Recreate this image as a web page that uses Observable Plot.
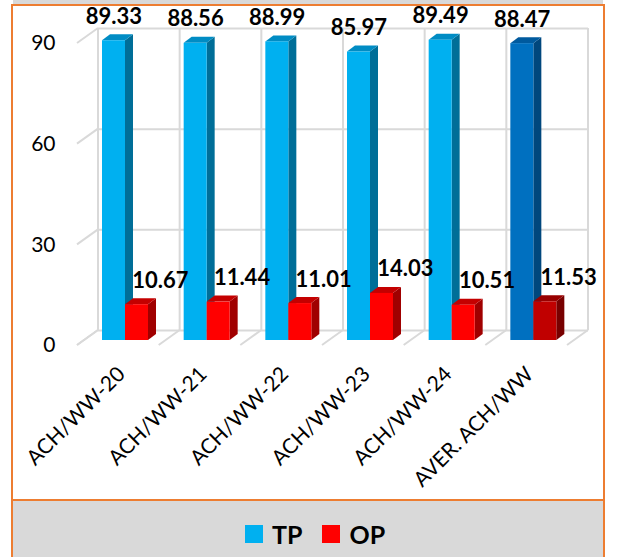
<!DOCTYPE html>
<html>
<head>
<meta charset="utf-8">
<script src="https://cdn.jsdelivr.net/npm/d3@7"></script>
<script src="https://cdn.jsdelivr.net/npm/@observablehq/plot@0.6"></script>
<style>
  html, body { margin: 0; padding: 0; background: #fff; }
  #page { position: relative; width: 617px; height: 557px; overflow: hidden; font-family: Lato, sans-serif; }
  #chart { position: absolute; left: 0; top: 0; }
  .top-band { position: absolute; left: 13px; top: 0; width: 590px; height: 4px; background: #D9D9D9; }
  .frame { position: absolute; left: 11px; top: 4px; width: 590px; height: 600px; border: 2px solid #ED7D31; pointer-events: none; }
  .legend-area { position: absolute; left: 13px; top: 499px; width: 590px; height: 80px; background: #D9D9D9; border-top: 2px solid #ED7D31; }
  .legend { position: absolute; left: 245px; top: 519px; display: flex; align-items: center; font-family: Lato, sans-serif; font-weight: bold; font-size: 25px; line-height: 30px; color: #000; }
  .legend .swatch { width: 18px; height: 18px; margin-right: 9px; }
  .legend .item { display: flex; align-items: center; margin-right: 20px; }
</style>
</head>
<body>
<div id="page">
  <div id="chart"></div>
  <div class="top-band"></div>
  <div class="frame"></div>
  <div class="legend-area"></div>
  <div class="legend" id="legend"></div>
</div>
<script>
// Data
const categories = ["ACH/WW-20", "ACH/WW-21", "ACH/WW-22", "ACH/WW-23", "ACH/WW-24", "AVER. ACH/WW"];
const tpValues = [89.33, 88.56, 88.99, 85.97, 89.49, 88.47];
const opValues = [10.67, 11.44, 11.01, 14.03, 10.51, 11.53];
const yTicks = [0, 30, 60, 90];
const seriesNames = ["TP", "OP"];

// Face colours for each series; the average column uses the deeper shades
const tpColors = {front: "#00B0F0", side: "#006E98", top: "#008CC4"};
const tpAvgColors = {front: "#0070C0", side: "#00477D", top: "#005A9E"};
const opColors = {front: "#FF0000", side: "#A00000", top: "#C40000"};
const opAvgColors = {front: "#C00000", side: "#780000", top: "#980000"};
const GRID = "#D9D9D9";

// Layout of the pseudo-3D chart
const W = 617, H = 500;
const M = {left: 84, right: 43, top: 38, bottom: 160};
const step = (W - M.left - M.right) / categories.length;
const BAR_W = 23, TP_INSET = 18, OP_INSET = TP_INSET + BAR_W;
const DEPTH_X = 8, DEPTH_Y = 6;          // extrusion of each bar
const BACK = [14, -10], FRONT = [-7, 5];  // back wall / front edge relative to the bar plane

const isAverage = (c) => c.startsWith("AVER.");
const tp = categories.map((c, i) => ({category: c, value: tpValues[i], colors: isAverage(c) ? tpAvgColors : tpColors}));
const op = categories.map((c, i) => ({category: c, value: opValues[i], colors: isAverage(c) ? opAvgColors : opColors}));

const svgNS = "http://www.w3.org/2000/svg";
function el(name, attrs) {
  const e = document.createElementNS(svgNS, name);
  for (const [k, v] of Object.entries(attrs)) e.setAttribute(k, v);
  return e;
}
const pts = (arr) => arr.map(([a, b]) => `${a},${b}`).join(" ");

// Side and top faces of the bars, placed from the plot's scales
function barDepth(rows, inset) {
  return (index, scales) => {
    const g = el("g", {});
    const y0 = scales.y(0);
    for (const r of rows) {
      const x1 = scales.x(r.category) + inset, x2 = x1 + BAR_W, yt = scales.y(r.value);
      g.append(el("polygon", {points: pts([[x2, yt], [x2 + DEPTH_X, yt - DEPTH_Y], [x2 + DEPTH_X, y0 - DEPTH_Y], [x2, y0]]), fill: r.colors.side}));
      g.append(el("polygon", {points: pts([[x1, yt], [x2, yt], [x2 + DEPTH_X, yt - DEPTH_Y], [x1 + DEPTH_X, yt - DEPTH_Y]]), fill: r.colors.top}));
    }
    return g;
  };
}

// Back-wall verticals, floor diagonals and left-wall diagonals
function walls() {
  return (index, scales) => {
    const g = el("g", {stroke: GRID, "stroke-width": 2, fill: "none"});
    const xs = categories.map((c) => scales.x(c));
    xs.push(xs[xs.length - 1] + scales.x.bandwidth());
    const y0 = scales.y(0), yMax = scales.y(d3.max(yTicks));
    for (const x of xs) {
      g.append(el("line", {x1: x + BACK[0], y1: y0 + BACK[1], x2: x + BACK[0], y2: yMax + BACK[1]}));
      g.append(el("line", {x1: x + BACK[0], y1: y0 + BACK[1], x2: x + FRONT[0], y2: y0 + FRONT[1]}));
    }
    for (const t of yTicks) {
      const y = scales.y(t);
      g.append(el("line", {x1: xs[0] + BACK[0], y1: y + BACK[1], x2: xs[0] + FRONT[0], y2: y + FRONT[1]}));
    }
    return g;
  };
}

const plot = Plot.plot({
  width: W,
  height: H,
  marginLeft: M.left,
  marginRight: M.right,
  marginTop: M.top,
  marginBottom: M.bottom,
  style: {background: "transparent", fontFamily: "Lato, sans-serif", fontSize: "21px", color: "#000", overflow: "visible"},
  x: {type: "band", domain: categories, padding: 0, round: false, axis: null},
  y: {domain: [0, 90], axis: null},
  color: {type: "identity"},
  marks: [
    Plot.ruleY(yTicks, {y: (d) => d, dx: BACK[0], dy: BACK[1], stroke: GRID, strokeWidth: 2}),
    walls(),
    barDepth(tp, TP_INSET),
    Plot.barY(tp, {x: "category", y1: 0, y2: "value", fill: (d) => d.colors.front, insetLeft: TP_INSET, insetRight: step - TP_INSET - BAR_W}),
    barDepth(op, OP_INSET),
    Plot.barY(op, {x: "category", y1: 0, y2: "value", fill: (d) => d.colors.front, insetLeft: OP_INSET, insetRight: step - OP_INSET - BAR_W}),
    // y tick labels on the front edge
    Plot.text(yTicks, {y: (d) => d, text: (d) => String(d), frameAnchor: "left", textAnchor: "end", dx: -29, dy: FRONT[1], fill: "#000"}),
    // category labels
    Plot.text(categories, {x: (d) => d, text: (d) => d, frameAnchor: "bottom", rotate: -45, textAnchor: "end", lineAnchor: "bottom", dx: 1, dy: 35, fill: "#000"}),
    // value labels
    Plot.text(tp, {x: "category", y: "value", text: (d) => d.value.toFixed(2), dx: -11.5, dy: -17, lineAnchor: "bottom", fontWeight: "bold", fontSize: 22, fill: "#000"}),
    Plot.text(op, {x: "category", y: "value", text: (d) => d.value.toFixed(2), dx: 35, dy: -17, lineAnchor: "bottom", fontWeight: "bold", fontSize: 22, fill: "#000"})
  ]
});
document.getElementById("chart").append(plot);

// Legend
const legendColors = [tpColors.front, opColors.front];
const legend = document.getElementById("legend");
seriesNames.forEach((name, i) => {
  const item = document.createElement("div");
  item.className = "item";
  const sw = document.createElement("div");
  sw.className = "swatch";
  sw.style.background = legendColors[i];
  const label = document.createElement("span");
  label.textContent = name;
  item.append(sw, label);
  legend.append(item);
});
</script>
</body>
</html>
